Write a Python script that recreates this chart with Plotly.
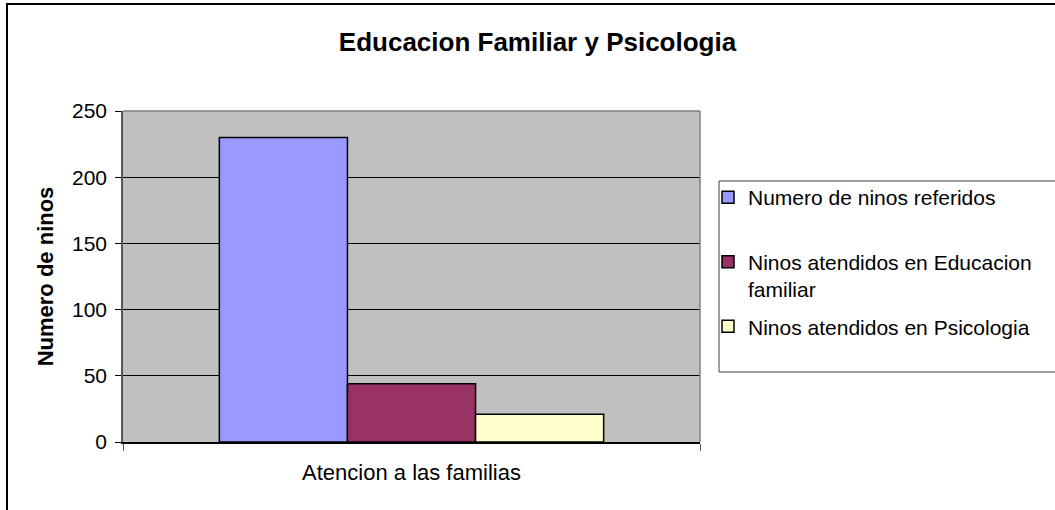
import plotly.graph_objects as go

categories = ["Atencion a las familias"]
series_names = [
    "Numero de ninos referidos<br>\u00a0",
    "Ninos atendidos en Educacion<br>familiar",
    "Ninos atendidos en Psicologia",
]
series_values = [[230], [44], [21]]
series_colors = ["#9999FF", "#993366", "#FFFFCC"]
y_ticks = [0, 50, 100, 150, 200, 250]

FONT = "Liberation Sans, Arial, sans-serif"

fig = go.Figure()
for i, (name, vals, col) in enumerate(zip(series_names, series_values, series_colors)):
    fig.add_trace(go.Bar(
        x=categories, y=vals, name=name,
        marker=dict(color=col, line=dict(color="#000000", width=1.5)),
        legendgroup=f"g{i}",
    ))

W, H = 1055, 510
L, R, T, B = 123, 700, 111, 442
pw, ph = R - L, B - T

def px(x):
    return (x - L) / pw

def py(y):
    return (B - y) / ph

fig.update_layout(
    width=W, height=H,
    autosize=False,
    margin=dict(l=L, r=W - R, t=T, b=H - B, pad=0),
    paper_bgcolor="white",
    plot_bgcolor="#C0C0C0",
    barmode="group",
    bargap=0.334,
    bargroupgap=0,
    font=dict(family=FONT, size=22, color="#000000"),
    title=dict(
        text="<b>Educacion Familiar y Psicologia</b>",
        font=dict(family=FONT, size=26, color="#000000"),
        xref="container", yref="container",
        x=537.5 / W, y=1 - 42 / H, xanchor="center", yanchor="middle",
    ),
    showlegend=True,
    legend=dict(
        x=px(708), y=py(177), xanchor="left", yanchor="top",
        bgcolor="rgba(0,0,0,0)", borderwidth=0,
        font=dict(family=FONT, size=21, color="#000000"),
        valign="top", tracegroupgap=7, traceorder="grouped",
        itemclick=False,
    ),
    xaxis=dict(
        type="category",
        showline=True, linecolor="#000000", linewidth=1.5,
        ticks="outside", tickson="boundaries", ticklen=7, tickcolor="#555555",
        ticklabelstandoff=10,
        showgrid=False, zeroline=False, fixedrange=True,
        tickfont=dict(family=FONT, size=22),
    ),
    yaxis=dict(
        range=[0, 250], tickvals=y_ticks,
        showline=True, linecolor="#555555", linewidth=1.5,
        ticks="outside", ticklen=6, tickcolor="#000000",
        ticklabelstandoff=4,
        showgrid=True, gridcolor="#000000", gridwidth=1,
        zeroline=False, fixedrange=True,
        tickfont=dict(family=FONT, size=21),
        title=dict(text="<b>Numero de ninos</b>", standoff=12,
                   font=dict(family=FONT, size=22)),
    ),
    shapes=[
        dict(type="line", xref="paper", yref="paper", x0=0, x1=1, y0=1, y1=1,
             line=dict(color="#808080", width=1.5)),
        dict(type="line", xref="paper", yref="paper", x0=1, x1=1, y0=0, y1=1,
             line=dict(color="#808080", width=1.5)),
        dict(type="rect", xref="paper", yref="paper",
             x0=px(719), x1=px(1070), y0=py(372), y1=py(181),
             line=dict(color="#404040", width=1), fillcolor="rgba(0,0,0,0)"),
        dict(type="rect", xref="paper", yref="paper",
             x0=px(7), x1=px(1075), y0=py(525), y1=py(4),
             line=dict(color="#000000", width=2), fillcolor="rgba(0,0,0,0)"),
    ],
)

fig.write_html(
    "out.html",
    config=dict(displayModeBar=False, responsive=False),
    post_script=(
        "document.documentElement.style.overflow='hidden';"
        "document.body.style.overflow='hidden';"
        "document.body.style.margin='0';document.body.style.padding='0';"
    ),
)
